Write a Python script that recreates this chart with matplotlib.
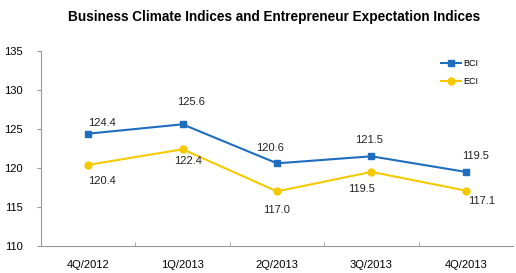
import matplotlib
matplotlib.use("Agg")
import matplotlib.pyplot as plt

categories = ["4Q/2012", "1Q/2013", "2Q/2013", "3Q/2013", "4Q/2013"]
bci = [124.4, 125.6, 120.6, 121.5, 119.5]
eci = [120.4, 122.4, 117.0, 119.5, 117.1]
yticks = [110, 115, 120, 125, 130, 135]

# label offsets (pixels) relative to each point
bci_off = [(14, 11), (8, 22), (-7, 15), (-2, 16), (10, 16)]
eci_off = [(14, -16), (5, -12), (0, -19), (-10, -17), (16, -10)]

plt.rcParams['font.family'] = ['Liberation Sans', 'DejaVu Sans']
fig = plt.figure(figsize=(5.16, 2.73), dpi=100)
ax = fig.add_axes([41/516, 1-246/273, (513-41)/516, (246-51)/273])

x = list(range(len(categories)))
blue = '#1F6DBF'
yellow = '#F5C900'
ax.plot(x, bci, color=blue, lw=1.5, marker='s', ms=4.5, label='BCI')
ax.plot(x, eci, color=yellow, lw=1.5, marker='o', ms=5, label='ECI')

for xi, v, o in zip(x, bci, bci_off):
    ax.annotate(f"{v:.1f}", (xi, v), xytext=o, textcoords='offset pixels',
                ha='center', va='center', fontsize=8, color='#222222')
for xi, v, o in zip(x, eci, eci_off):
    ax.annotate(f"{v:.1f}", (xi, v), xytext=o, textcoords='offset pixels',
                ha='center', va='center', fontsize=8, color='#222222')

ax.set_xlim(-0.5, len(categories) - 0.5)
ax.set_ylim(110, 135)
ax.set_yticks(yticks)
ax.set_xticks(x)
ax.set_xticklabels(categories)
ax.set_xticks([i + 0.5 for i in x[:-1]], minor=True)
ax.tick_params(axis='x', which='major', length=0, labelsize=8, pad=10)
ax.tick_params(axis='x', which='minor', length=3, direction='in', color='#999999')
ax.tick_params(axis='y', length=3, direction='out', color='#999999', labelsize=8, pad=10)
for s in ['top', 'right']:
    ax.spines[s].set_visible(False)
for s in ['left', 'bottom']:
    ax.spines[s].set_color('#999999')
    ax.spines[s].set_linewidth(0.8)

leg = ax.legend(loc='upper left', bbox_to_anchor=(0.83, 1.0), frameon=False,
                fontsize=6.5, handlelength=2.2, labelspacing=1.0, handletextpad=0.3)

fig.text(274/516, 1 - 17/273, "Business Climate Indices and Entrepreneur Expectation Indices",
         ha='center', va='center', fontsize=9.8, fontweight='bold')

fig.savefig("out.png", dpi=100, facecolor='white')
